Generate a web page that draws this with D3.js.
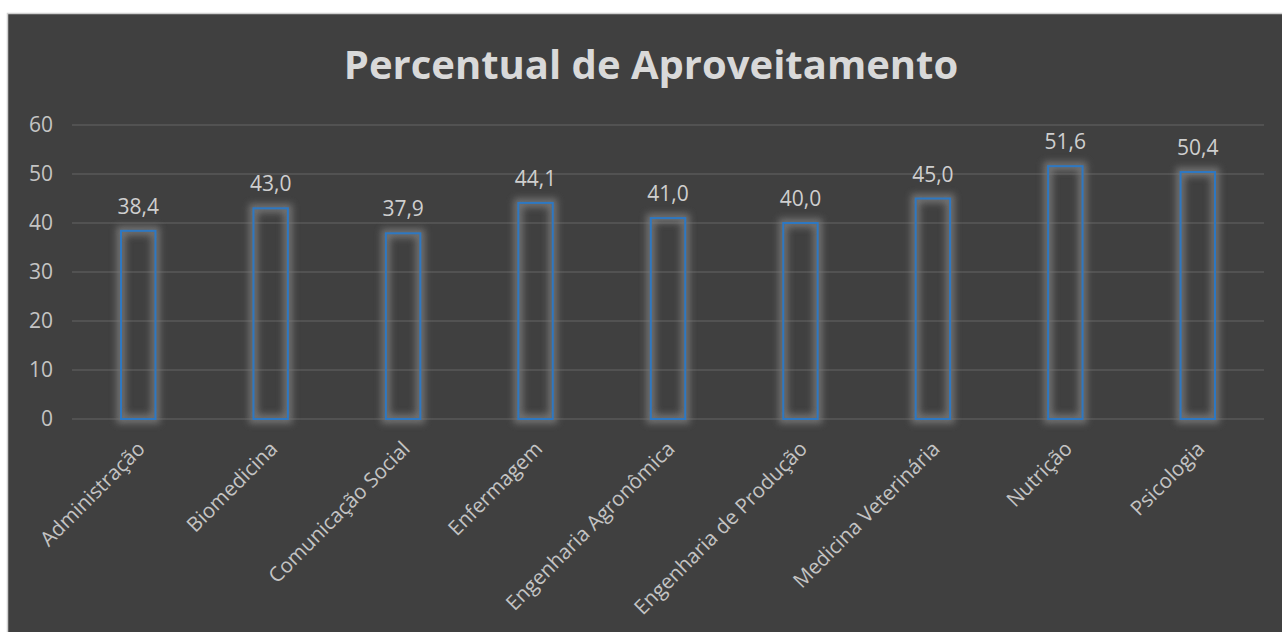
<!DOCTYPE html>
<html>
<head>
<meta charset="utf-8">
<script src="https://cdn.jsdelivr.net/npm/d3@7"></script>
<style>
  html, body { margin: 0; padding: 0; background: #ffffff; }
  svg { display: block; }
</style>
</head>
<body>
<script>
// Data
const courses = ["Administração", "Biomedicina", "Comunicação Social", "Enfermagem",
  "Engenharia Agronômica", "Engenharia de Produção", "Medicina Veterinária", "Nutrição", "Psicologia"];
const values = [38.4, 43.0, 37.9, 44.1, 41.0, 40.0, 45.0, 51.6, 50.4];
const yTicks = [0, 10, 20, 30, 40, 50, 60];
const title = "Percentual de Aproveitamento";

const width = 1282, height = 632;
const font = "'Open Sans', 'Noto Sans', sans-serif";

const svg = d3.select("body")
  .append("svg")
    .attr("width", width)
    .attr("height", height);

// Glow filter for the bars
const defs = svg.append("defs");
const glow = defs.append("filter")
    .attr("id", "glow")
    .attr("x", "-60%").attr("y", "-20%")
    .attr("width", "220%").attr("height", "140%");
glow.append("feGaussianBlur")
    .attr("stdDeviation", 3.5);

// Chart background with a light frame
svg.append("rect")
    .attr("x", 7.5).attr("y", 13.5)
    .attr("width", width).attr("height", height)
    .attr("fill", "#404040")
    .attr("stroke", "#d0d0d0")
    .attr("stroke-width", 1.5);

// Scales
const x = d3.scaleBand()
  .domain(courses)
  .range([72, 1264])
  .paddingInner(0.74)
  .paddingOuter(0.37);

const y = d3.scaleLinear()
  .domain([0, 60])
  .range([419, 125]);

// Title
svg.append("text")
    .text(title)
    .attr("x", 651)
    .attr("y", 79)
    .attr("text-anchor", "middle")
    .attr("fill", "#d9d9d9")
    .style("font-family", font)
    .style("font-weight", "bold")
    .style("font-size", "40px");

// Gridlines
svg.append("g")
  .selectAll("line")
  .data(yTicks)
  .join("line")
    .attr("x1", 72)
    .attr("x2", 1264)
    .attr("y1", d => y(d))
    .attr("y2", d => y(d))
    .attr("stroke", "#595959")
    .attr("stroke-width", 1.5);

// Y axis labels
const yAxis = svg.append("g")
    .attr("transform", "translate(53,0)")
    .call(d3.axisLeft(y).tickValues(yTicks).tickSize(0).tickPadding(0));
yAxis.select(".domain").remove();
yAxis.selectAll("text")
    .attr("fill", "#c4c4c4")
    .style("font-family", font)
    .style("font-size", "21px");

// Bars
const bar = svg.append("g")
  .selectAll("g")
  .data(values)
  .join("g")
    .attr("transform", (d, i) => `translate(${x(courses[i])},0)`);

bar.append("rect")
    .attr("x", 0)
    .attr("y", d => y(d))
    .attr("width", x.bandwidth())
    .attr("height", d => y(0) - y(d))
    .attr("fill", "none")
    .attr("stroke", "#7c7c7c")
    .attr("stroke-width", 9)
    .attr("opacity", 0.85)
    .attr("filter", "url(#glow)");

bar.append("rect")
    .attr("x", 0)
    .attr("y", d => y(d))
    .attr("width", x.bandwidth())
    .attr("height", d => y(0) - y(d))
    .attr("fill", "none")
    .attr("stroke", "#2e78c2")
    .attr("stroke-width", 2);

// Value labels
bar.append("text")
    .text(d => d3.format(".1f")(d).replace(".", ","))
    .attr("x", x.bandwidth() / 2)
    .attr("y", d => y(d) - 17)
    .attr("text-anchor", "middle")
    .attr("fill", "#cfcfcf")
    .style("font-family", font)
    .style("font-size", "21px");

// X axis labels
svg.append("g")
  .selectAll("text")
  .data(courses)
  .join("text")
    .text(d => d)
    .attr("transform", d => `translate(${x(d) + x.bandwidth() / 2 + 3},${y(0) + 26}) rotate(-45)`)
    .attr("text-anchor", "end")
    .attr("dy", "0.35em")
    .attr("fill", "#c4c4c4")
    .style("font-family", font)
    .style("font-size", "20.5px");
</script>
</body>
</html>
